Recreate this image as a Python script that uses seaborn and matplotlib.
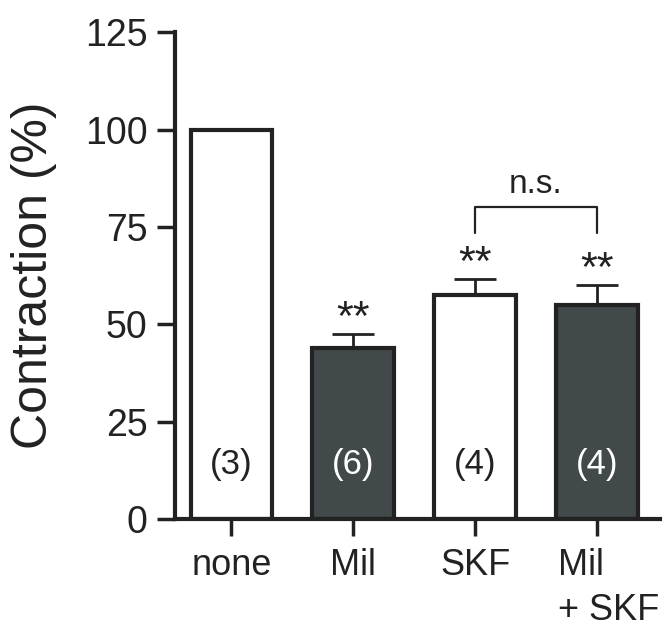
import numpy as np
import pandas as pd
import matplotlib
matplotlib.use("Agg")
import matplotlib.pyplot as plt
import matplotlib.transforms as mtransforms
import seaborn as sns

# -----------------------------
# Data
# -----------------------------
conditions = ["none", "Mil", "SKF", "Mil\n+ SKF"]
contraction = [100, 44, 57.5, 55]
sem = [0, 3.5, 4.2, 5]
n_cells = ["(3)", "(6)", "(4)", "(4)"]
stars = ["", "**", "**", "**"]
fill_colors = ["white", "#3f4a4d", "white", "#3f4a4d"]
yticks = [0, 25, 50, 75, 100, 125]

ink = "#222222"

sns.set_style("ticks")
plt.rcParams['font.family'] = ['Liberation Sans', 'DejaVu Sans']

df = pd.DataFrame({"condition": conditions, "contraction": contraction})

fig, ax = plt.subplots(figsize=(6.69, 6.30), dpi=100)
fig.subplots_adjust(left=0.262, right=0.987, bottom=0.176, top=0.949)

sns.barplot(data=df, x="condition", y="contraction", hue="condition",
            palette=fill_colors, legend=False, width=0.67,
            edgecolor=ink, linewidth=3, ax=ax)

# one-sided SEM bars
x = np.arange(len(conditions))
err = np.array(sem, dtype=float)
mask = err > 0
ax.errorbar(x[mask], np.array(contraction)[mask],
            yerr=[np.zeros(mask.sum()), err[mask]],
            fmt="none", ecolor=ink, elinewidth=2, capsize=15, capthick=2,
            zorder=1)

# n numbers inside bars
for i, label in enumerate(n_cells):
    col = "white" if fill_colors[i] != "white" else ink
    ax.text(i, 14, label, ha="center", va="center", fontsize=25, color=col)

# significance stars
for i, s in enumerate(stars):
    if s:
        ax.text(i, contraction[i] + sem[i] + 1.0, s, ha="center", va="baseline",
                fontsize=31, color=ink)

# n.s. bracket between SKF and Mil + SKF
ax.plot([2, 2, 3, 3], [73.5, 80, 80, 73.5], color=ink, lw=1.6)
ax.text(2.5, 82, "n.s.", ha="center", va="bottom", fontsize=24, color=ink)

ax.set_ylim(0, 125)
ax.set_xlim(-0.46, 3.52)
ax.set_yticks(yticks)
ax.set_ylabel("Contraction (%)", fontsize=36, color=ink, labelpad=20)
ax.set_xlabel("")
ax.tick_params(axis="y", labelsize=27, length=13, width=2.5, colors=ink, pad=7)
ax.tick_params(axis="x", labelsize=26, length=12, width=2.5, colors=ink, pad=9)

for lab in ax.get_xticklabels():
    lab.set_linespacing(1.35)
last = ax.get_xticklabels()[-1]
last.set_multialignment("left")
last.set_transform(last.get_transform() +
                   mtransforms.ScaledTranslation(0.12, 0, fig.dpi_scale_trans))

sns.despine(ax=ax)
for side in ["left", "bottom"]:
    ax.spines[side].set_linewidth(3)
    ax.spines[side].set_color(ink)

fig.savefig("out.png", dpi=100)
